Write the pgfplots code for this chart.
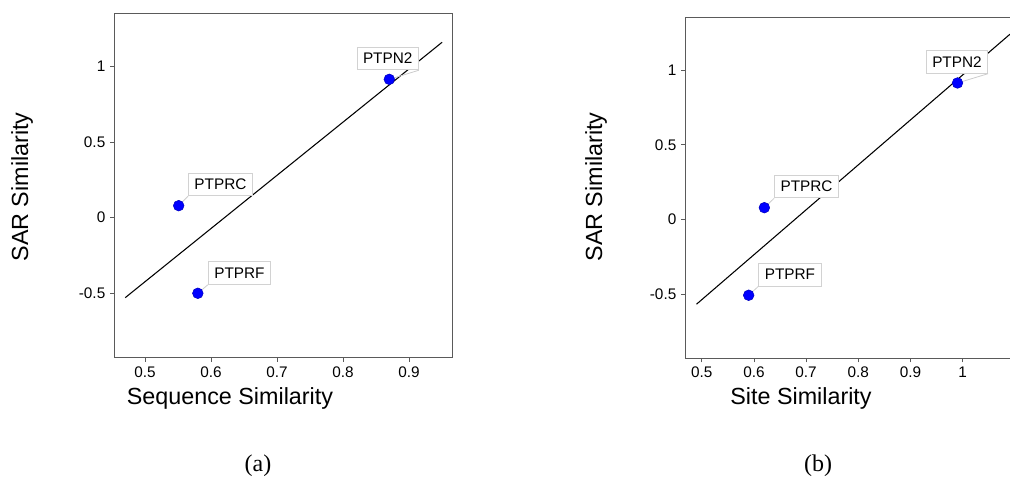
\documentclass[border=0pt]{standalone}
\usepackage{pgfplots}
\pgfplotsset{compat=1.18}
\usepackage{fontspec}
\setmainfont{Liberation Sans}
\newfontfamily\capfont{Liberation Serif}

\definecolor{axgray}{RGB}{90,90,90}
\definecolor{ptblue}{RGB}{0,0,255}

\pgfplotsset{
  simil/.style={
    scale only axis,
    anchor=south west,
    ymin=-0.926, ymax=1.352,
    ytick={-0.5,0,0.5,1},
    tick align=outside,
    tick pos=left,
    major tick length=3pt,
    axis line style={axgray, line width=0.7pt},
    every tick/.style={axgray, line width=0.6pt},
    tick label style={font=\fontsize{11.5}{13}\selectfont, black},
    /pgf/number format/assume math mode=true,
    yticklabel style={/pgf/number format/.cd, fixed},
  },
}
\tikzset{
  lbl/.style={draw=gray!35, fill=white, line width=0.6pt, inner xsep=4.5pt,
    minimum height=17pt, font=\fontsize{11.5}{13}\selectfont},
}

\begin{document}
\begin{tikzpicture}
\useasboundingbox (0,0) rectangle (757.5pt,361.5pt);

% (a) sequence similarity
\begin{axis}[simil,
  at={(85.5pt,93.2pt)}, width=254pt, height=258.5pt,
  xmin=0.453, xmax=0.966,
  xtick={0.5,0.6,0.7,0.8,0.9},
]
\addplot[black, line width=0.8pt] coordinates {(0.470,-0.529) (0.950,1.159)};
\addplot[only marks, mark=*, mark size=4pt, color=ptblue!75!black, fill=ptblue]
  coordinates {(0.870,0.914) (0.551,0.079) (0.580,-0.500)};
\node[lbl] (a1) at (axis cs:0.8676,1.0516) {PTPN2};
\node[lbl] (a2) at (axis cs:0.6142,0.219) {PTPRC};
\node[lbl] (a3) at (axis cs:0.643,-0.366) {PTPRF};
\draw[gray!40, line width=0.6pt] (axis cs:0.870,0.914) -- (a1.south east);
\draw[gray!40, line width=0.6pt] (axis cs:0.551,0.079) -- (a2.south west);
\draw[gray!40, line width=0.6pt] (axis cs:0.580,-0.500) -- (a3.south west);
\end{axis}

% (b) site similarity
\begin{axis}[simil,
  at={(513.75pt,92.8pt)}, width=243.75pt, height=255.75pt,
  xmin=0.468, xmax=1.0906,
  xtick={0.5,0.6,0.7,0.8,0.9,1},
  axis x line*=bottom, axis y line*=left,
]
\addplot[black, line width=0.8pt] coordinates {(0.490,-0.565) (1.0906,1.239)};
\addplot[only marks, mark=*, mark size=4pt, color=ptblue!75!black, fill=ptblue]
  coordinates {(0.990,0.913) (0.620,0.080) (0.590,-0.505)};
\node[lbl] (b1) at (axis cs:0.989,1.0535) {PTPN2};
\node[lbl] (b2) at (axis cs:0.7008,0.2213) {PTPRC};
\node[lbl] (b3) at (axis cs:0.669,-0.367) {PTPRF};
\draw[gray!40, line width=0.6pt] (axis cs:0.990,0.913) -- (b1.south east);
\draw[gray!40, line width=0.6pt] (axis cs:0.620,0.080) -- (b2.south west);
\draw[gray!40, line width=0.6pt] (axis cs:0.590,-0.505) -- (b3.south west);
\draw[axgray, line width=0.7pt] (rel axis cs:0,1) -- (rel axis cs:1,1);
\end{axis}

% axis titles and captions
\node[font=\fontsize{17.5}{20}\selectfont] at (172.5pt,63pt) {Sequence Similarity};
\node[font=\fontsize{17.5}{20}\selectfont] at (600.75pt,63pt) {Site Similarity};
\node[font=\fontsize{17.5}{20}\selectfont, rotate=90] at (16.5pt,221.25pt) {SAR Similarity};
\node[font=\fontsize{17.5}{20}\selectfont, rotate=90] at (447pt,221.25pt) {SAR Similarity};
\node[font=\capfont\fontsize{18}{20}\selectfont] at (193.5pt,12pt) {(a)};
\node[font=\capfont\fontsize{18}{20}\selectfont] at (613.5pt,12pt) {(b)};
\end{tikzpicture}
\end{document}
